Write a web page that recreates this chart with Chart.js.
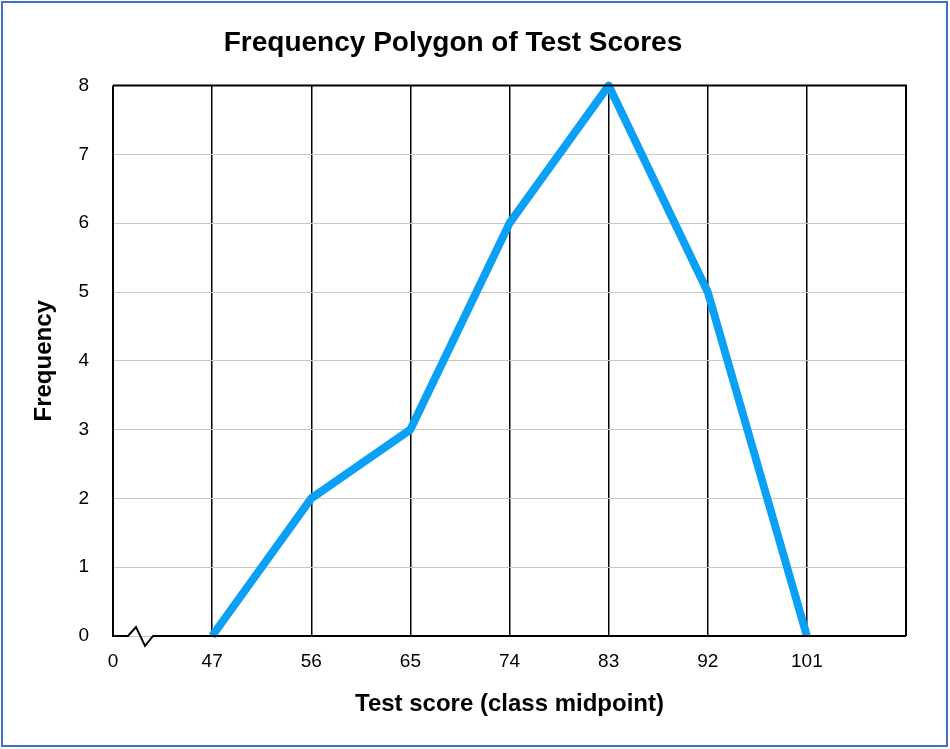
<!DOCTYPE html>
<html><head><meta charset="utf-8">
<script src="https://cdn.jsdelivr.net/npm/chart.js@4"></script>
<style>html,body{margin:0;padding:0;background:#fff}#w{width:950px;height:749px}</style>
</head><body><div id="w"><canvas id="c"></canvas></div>
<script>
const midpoints = [47, 56, 65, 74, 83, 92, 101];
const frequencies = [0, 2, 3, 6, 8, 5, 0];
const xTickValues = [38, 47, 56, 65, 74, 83, 92, 101, 110];
const xTickLabels = ['0', '47', '56', '65', '74', '83', '92', '101', ''];

const deco = {
  id: 'deco',
  beforeDraw(chart) {
    const c = chart.ctx;
    c.save(); c.fillStyle = '#fff'; c.fillRect(0, 0, chart.width, chart.height); c.restore();
  },
  afterDraw(chart) {
    const c = chart.ctx, a = chart.chartArea;
    c.save();
    c.strokeStyle = '#000'; c.lineWidth = 2;
    c.beginPath();
    c.moveTo(a.left, a.top); c.lineTo(a.right, a.top); c.lineTo(a.right, a.bottom);
    c.moveTo(a.left, a.top); c.lineTo(a.left, a.bottom);
    c.lineTo(a.left + 15, a.bottom);
    c.lineTo(a.left + 23, a.bottom - 9);
    c.lineTo(a.left + 32, a.bottom + 10);
    c.lineTo(a.left + 40, a.bottom);
    c.lineTo(a.right, a.bottom);
    c.stroke();
    c.strokeStyle = '#4472C4'; c.lineWidth = 2;
    c.strokeRect(2, 2, chart.width - 5, chart.height - 5);
    c.restore();
  }
};

new Chart(document.getElementById('c'), {
  type: 'line',
  data: { datasets: [{
    data: midpoints.map((m, i) => ({ x: m, y: frequencies[i] })),
    borderColor: '#0AA0F5', borderWidth: 8, pointRadius: 0, tension: 0, clip: false,
    borderJoinStyle: 'round'
  }]},
  options: {
    responsive: true, maintainAspectRatio: false, animation: false,
    layout: { padding: { left: 0, right: 44, top: 0, bottom: 0 } },
    plugins: {
      legend: { display: false }, tooltip: { enabled: false },
      title: { display: true, text: 'Frequency Polygon of Test Scores', color: '#000',
        font: { family: 'Liberation Sans, Arial', size: 28, weight: 'bold' }, padding: { top: 26, bottom: 26 } }
    },
    scales: {
      x: {
        type: 'linear', min: 38, max: 110,
        afterBuildTicks(s) { s.ticks = xTickValues.map(v => ({ value: v })); },
        afterFit(s) { s.height = 113; },
        border: { display: false },
        grid: { color: c => c.index === 0 || c.index === 8 ? 'rgba(0,0,0,0)' : '#000', lineWidth: 1.5, drawTicks: false },
        ticks: { color: '#000', padding: 14, maxRotation: 0, autoSkip: false,
          font: { family: 'Liberation Sans, Arial', size: 19 },
          callback: (v) => xTickLabels[xTickValues.indexOf(v)] },
        title: { display: true, text: 'Test score (class midpoint)', color: '#000',
          font: { family: 'Liberation Sans, Arial', size: 24, weight: 'bold' }, padding: { top: 0, bottom: 30 } }
      },
      y: {
        min: 0, max: 8,
        afterFit(s) { s.width = 113; },
        border: { display: false },
        grid: { color: '#c8c8c8', lineWidth: 1, drawTicks: false },
        ticks: { stepSize: 1, color: '#000', padding: 24, font: { family: 'Liberation Sans, Arial', size: 19 } },
        title: { display: true, text: 'Frequency', color: '#000',
          font: { family: 'Liberation Sans, Arial', size: 24, weight: 'bold' }, padding: { top: 30, bottom: 0 } }
      }
    }
  },
  plugins: [deco]
});
</script></body></html>
